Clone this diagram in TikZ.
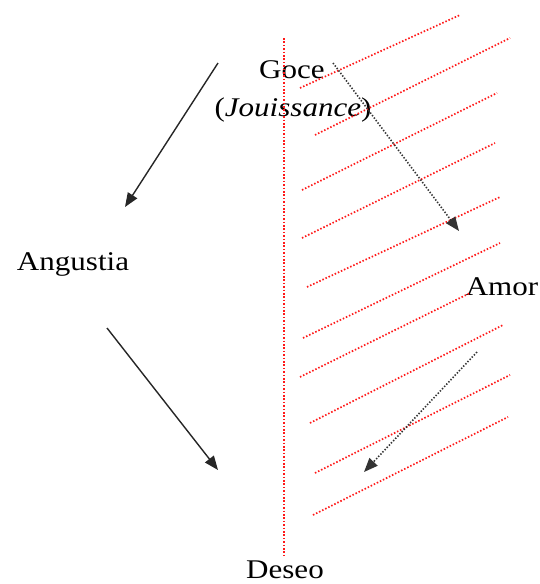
\documentclass[tikz,border=0pt]{standalone}
\usepackage{fontspec}
\setmainfont[FakeStretch=1.15]{Liberation Serif}
\usetikzlibrary{arrows.meta}
\begin{document}
\begin{tikzpicture}[x=1pt,y=-1pt,
  lbl/.style={anchor=base,inner sep=0pt,font=\fontsize{27}{31}\selectfont,text=black},
  hatch/.style={red!90!white,line width=1.7pt,dash pattern=on 1.5pt off 1.9pt},
  solidarr/.style={draw=black!85,line width=1.4pt,-{Triangle[length=14pt,width=11pt]}},
  dotarr/.style={draw=black!80,line width=1.6pt,dash pattern=on 1.4pt off 1.7pt,-{Triangle[length=14pt,width=11pt]}}]
\useasboundingbox (0,0) rectangle (539,584);
% labels
\node[lbl] (goce) at (292,78) {Goce};
\node[lbl] (jouis) at (293,116) {(\textit{Jouissance})};
\node[lbl] (ang) at (73,270) {Angustia};
\node[lbl] (amor) at (502,295) {Amor};
\node[lbl] (deseo) at (285,578) {Deseo};
% vertical red dotted line
\coordinate (vtop) at (284,38);
\coordinate (vbot) at (284,557);
\draw[hatch] (vtop) -- (vbot);
% hatch lines
\foreach \i/\a/\b/\c/\d in {1/300/88/460/15, 2/315/135/510/38, 3/302/190/497/93,
  4/302/238/495/143, 5/307/287/500/197, 6/303/338/500/243, 7/300/377/470/293,
  8/310/423/503/325, 9/315/473/510/375, 10/313/515/508/417}{
  \coordinate (hs\i) at (\a,\b);
  \coordinate (he\i) at (\c,\d);
  \draw[hatch] (hs\i) -- (he\i);
}
% arrows
\coordinate (a1s) at (218,63);
\coordinate (a1e) at (125,207);
\coordinate (a2s) at (107,328);
\coordinate (a2e) at (218,470);
\coordinate (a3s) at (333,63);
\coordinate (a3e) at (459,231);
\coordinate (a4s) at (477,352);
\coordinate (a4e) at (364,472);
\draw[solidarr] (a1s) -- (a1e);
\draw[solidarr] (a2s) -- (a2e);
\draw[dotarr] (a3s) -- (a3e);
\draw[dotarr] (a4s) -- (a4e);
\end{tikzpicture}
\end{document}
